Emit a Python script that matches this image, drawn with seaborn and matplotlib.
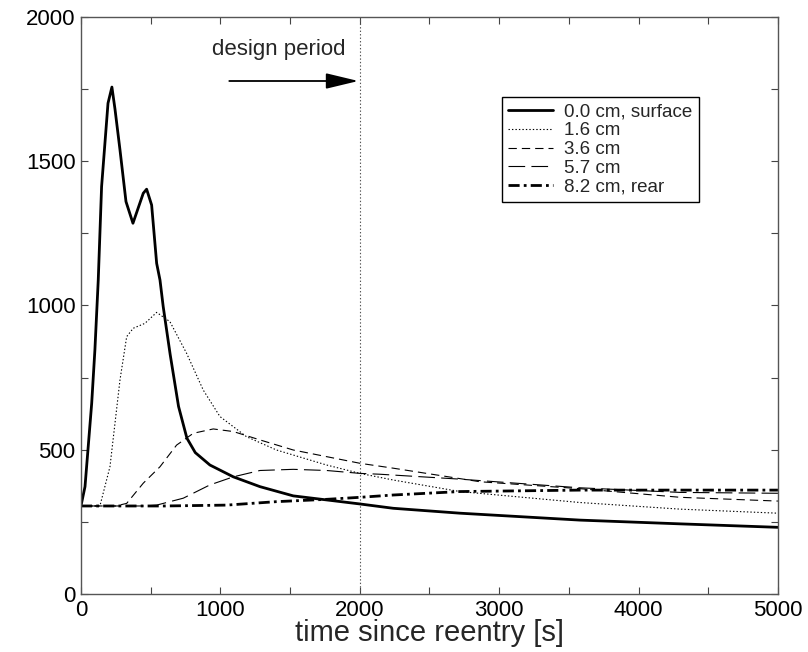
import matplotlib
matplotlib.use("Agg")
import matplotlib.pyplot as plt
from matplotlib.ticker import MultipleLocator
import seaborn as sns
import pandas as pd

# temperature histories at several depths of the heat shield
t_surface = [0, 29, 77, 100, 124, 148, 194, 222, 244, 280, 323, 373, 447, 471, 507,
             543, 567, 590, 640, 700, 760, 820, 925, 1093, 1284, 1523, 1762, 2001, 2240,
             2719, 3580, 4300, 5000]
v_surface = [305, 372, 661, 846, 1088, 1412, 1701, 1757, 1681, 1539, 1360, 1285, 1389,
             1403, 1348, 1146, 1088, 996, 830, 650, 540, 490, 447, 406, 372, 340, 326, 312,
             297, 280, 256, 243, 231]

t_16 = [0, 136, 208, 280, 328, 375, 459, 543, 638, 758, 877, 997, 1188, 1403, 1762,
        2001, 2240, 2719, 3580, 4300, 5000]
v_16 = [305, 305, 441, 742, 892, 921, 938, 976, 944, 834, 707, 615, 545, 499, 447,
        418, 395, 355, 317, 294, 280]

t_36 = [0, 250, 328, 447, 567, 686, 806, 949, 1093, 1284, 1523, 1762, 2001, 2240,
        2862, 3580, 4300, 5000]
v_36 = [305, 305, 314, 384, 441, 516, 557, 572, 563, 534, 499, 476, 453, 436, 389,
        365, 335, 322]

t_57 = [0, 450, 543, 734, 925, 1093, 1284, 1523, 1762, 2001, 2145, 2719, 3580, 4300,
        5000]
v_57 = [305, 305, 308, 332, 378, 406, 428, 432, 428, 418, 415, 398, 368, 352, 349]

t_rear = [0, 600, 1045, 1403, 1762, 2001, 2240, 2719, 3580, 4300, 5000]
v_rear = [305, 305, 308, 320, 328, 335, 343, 355, 360, 360, 360]

labels = ["0.0 cm, surface", "1.6 cm", "3.6 cm", "5.7 cm", "8.2 cm, rear"]
design_start = 2000

sns.set_theme(style="ticks")
plt.rcParams["font.family"] = ["Liberation Sans", "DejaVu Sans"]
plt.rcParams["lines.scale_dashes"] = False

fig = plt.figure(figsize=(8.08, 6.52), dpi=100)
ax = fig.add_axes([0.1002, 0.089, 0.8626, 0.885])

series = [
    (t_surface, v_surface, dict(lw=2.0, ls="-")),
    (t_16, v_16, dict(lw=0.8, ls=(0, (1.0, 1.5)))),
    (t_36, v_36, dict(lw=0.8, ls=(0, (6, 3.6)))),
    (t_57, v_57, dict(lw=0.8, ls=(0, (12, 4.5)))),
    (t_rear, v_rear, dict(lw=2.0, ls=(0, (8, 3, 2, 3)))),
]
for (t, v, style), lab in zip(series, labels):
    df = pd.DataFrame({"t": t, "T": v})
    sns.lineplot(data=df, x="t", y="T", ax=ax, color="black", label=lab,
                 linewidth=style["lw"], linestyle=style["ls"])

ax.axvline(design_start, color="#555555", lw=0.8, ls=(0, (1, 1.5)), zorder=1)
ax.annotate("", xy=(design_start - 10, 1778), xytext=(1064, 1778),
            arrowprops=dict(arrowstyle="-|>,head_length=1.0,head_width=0.24",
                            mutation_scale=20, color="black", lw=1.3,
                            shrinkA=0, shrinkB=0))
ax.text(1420, 1886, "design period", ha="center", va="center", fontsize=16)

ax.set_xlim(0, 5000)
ax.set_ylim(0, 2000)
ax.xaxis.set_major_locator(MultipleLocator(1000))
ax.xaxis.set_minor_locator(MultipleLocator(500))
ax.yaxis.set_major_locator(MultipleLocator(500))
ax.yaxis.set_minor_locator(MultipleLocator(250))
ax.tick_params(which="both", direction="in", top=True, right=True, length=5,
               width=0.8, color="#444444", labelsize=16, labelcolor="black", pad=4)
ax.set_xlabel("time since reentry [s]", fontsize=21, labelpad=-1)
ax.set_ylabel("")
for sp in ax.spines.values():
    sp.set_color("#555555")
    sp.set_linewidth(1.0)

leg = ax.legend(loc="upper right", bbox_to_anchor=(0.887, 0.861), borderaxespad=0,
                fontsize=13.5, frameon=True, fancybox=False, edgecolor="black",
                handlelength=2.4, labelspacing=0.08, borderpad=0.35, handletextpad=0.6)
leg.get_frame().set_linewidth(1.0)
leg.get_frame().set_alpha(1)

fig.savefig("out.png", dpi=100)
